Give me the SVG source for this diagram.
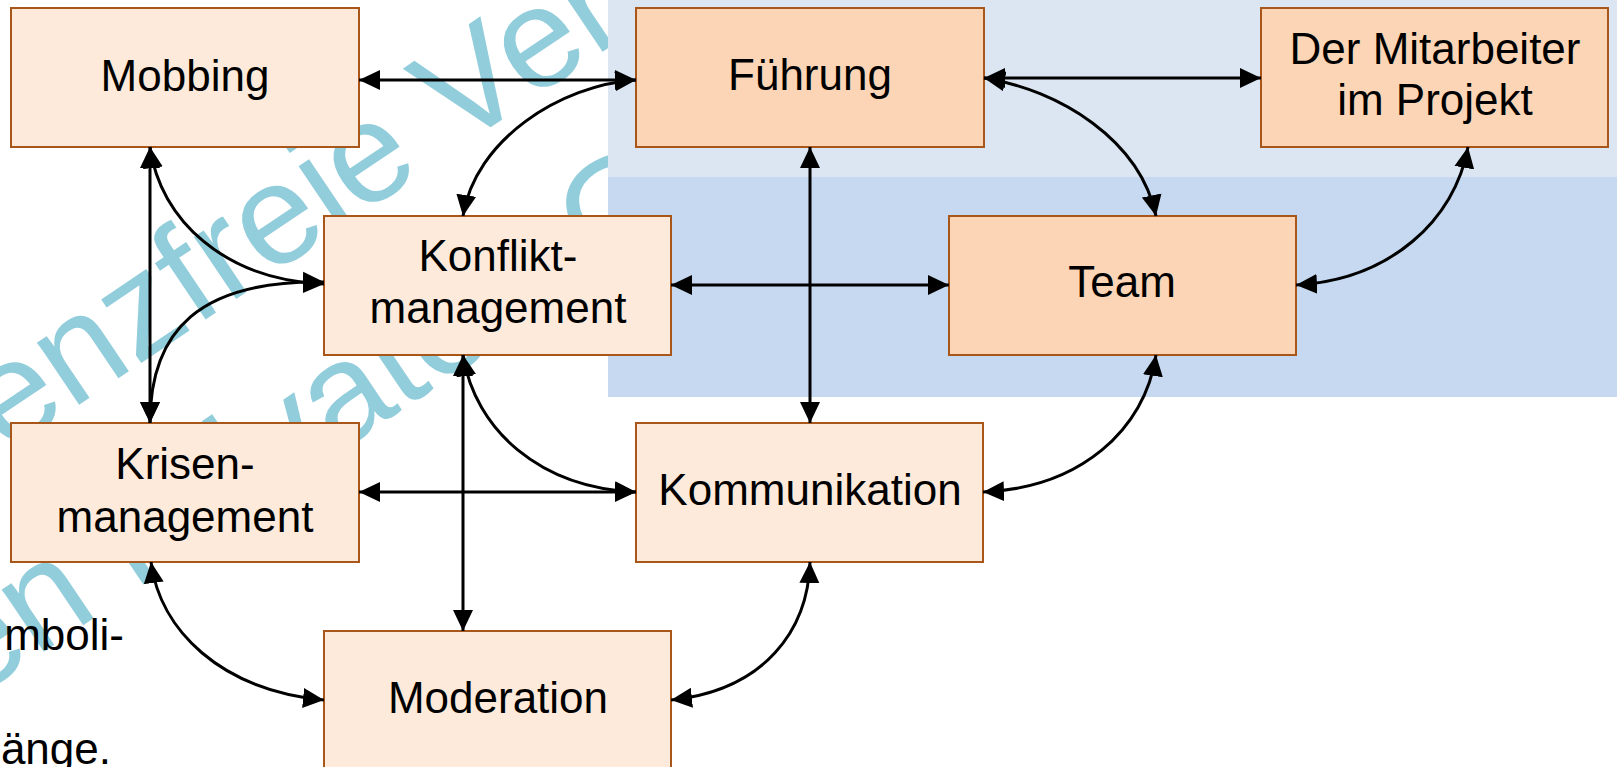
<svg xmlns="http://www.w3.org/2000/svg" width="1617" height="767" viewBox="0 0 1617 767">
  <style>
    .node rect { stroke: #A9561A; stroke-width: 2; }
    .light rect { fill: #FDEADA; }
    .dark rect { fill: #FBD5B5; }
    .node text, .body { font-family: "Liberation Sans", Arial, sans-serif; font-size: 44px; fill: #000; }
    .node text { text-anchor: middle; }
    .wm { font-family: "Liberation Sans", Arial, sans-serif; font-size: 142px; fill: #92CDDC; }
    .conn path, .conn line { fill: none; stroke: #000; stroke-width: 3; marker-start: url(#arrow); marker-end: url(#arrow); }
  </style>
  <defs>
    <marker id="arrow" markerUnits="userSpaceOnUse" viewBox="0 0 22 22" markerWidth="22" markerHeight="22" refX="21" refY="11" orient="auto-start-reverse">
      <path d="M0,1 L21,11 L0,21 Z" fill="#000"/>
    </marker>
  </defs>

  <rect width="1617" height="767" fill="#FFFFFF"/>

  <!-- watermark -->
  <g id="watermark" transform="translate(-145,556) rotate(-34)">
    <text class="wm" x="0" y="0">Lizenzfreie Version</text>
    <text class="wm" x="-270" y="185">für den Privaten Gebrauch</text>
  </g>

  <!-- body text at the left margin -->
  <text class="body" x="124" y="650" text-anchor="end">mboli-</text>
  <text class="body" x="111" y="764" text-anchor="end">änge.</text>

  <!-- background bands -->
  <rect x="608" y="0" width="1009" height="177" fill="#DCE6F2"/>
  <rect x="608" y="177" width="1009" height="220" fill="#C6D9F1"/>

  <!-- nodes -->
  <g id="mobbing" class="node light">
    <rect x="11" y="8" width="348" height="139"/>
    <text x="185" y="91">Mobbing</text>
  </g>
  <g id="fuehrung" class="node dark">
    <rect x="636" y="8" width="348" height="139"/>
    <text x="810" y="90">Führung</text>
  </g>
  <g id="mitarbeiter" class="node dark">
    <rect x="1261" y="8" width="347" height="139"/>
    <text x="1435" y="64">Der Mitarbeiter</text>
    <text x="1435" y="115">im Projekt</text>
  </g>
  <g id="konflikt" class="node light">
    <rect x="324" y="216" width="347" height="139"/>
    <text x="498" y="271">Konflikt-</text>
    <text x="498" y="323">management</text>
  </g>
  <g id="team" class="node dark">
    <rect x="949" y="216" width="347" height="139"/>
    <text x="1122" y="297">Team</text>
  </g>
  <g id="krisen" class="node light">
    <rect x="11" y="423" width="348" height="139"/>
    <text x="185" y="479">Krisen-</text>
    <text x="185" y="532">management</text>
  </g>
  <g id="kommunikation" class="node light">
    <rect x="636" y="423" width="347" height="139"/>
    <text x="810" y="505">Kommunikation</text>
  </g>
  <g id="moderation" class="node light">
    <rect x="324" y="631" width="347" height="150"/>
    <text x="498" y="713">Moderation</text>
  </g>

  <!-- connectors -->
  <g id="connectors" class="conn">
    <line x1="359" y1="80" x2="636" y2="80"/>
    <line x1="984" y1="78" x2="1261" y2="78"/>
    <line x1="810" y1="147" x2="810" y2="423"/>
    <line x1="671" y1="285" x2="949" y2="285"/>
    <line x1="150" y1="147" x2="150" y2="423"/>
    <line x1="463" y1="355" x2="463" y2="631"/>
    <line x1="359" y1="492" x2="636" y2="492"/>
    <path d="M636,80 C560,85 475,140 463,216"/>
    <path d="M984,78 C1060,90 1140,140 1156,216"/>
    <path d="M1468,147 C1455,220 1390,280 1296,285"/>
    <path d="M150,147 C160,220 225,280 324,284"/>
    <path d="M150,423 C150,330 200,280 324,282"/>
    <path d="M463,355 C475,430 540,488 636,492"/>
    <path d="M151,562 C160,630 220,690 324,700"/>
    <path d="M810,562 C808,630 765,690 671,700"/>
    <path d="M1156,355 C1145,430 1080,488 983,492"/>
  </g>
</svg>
